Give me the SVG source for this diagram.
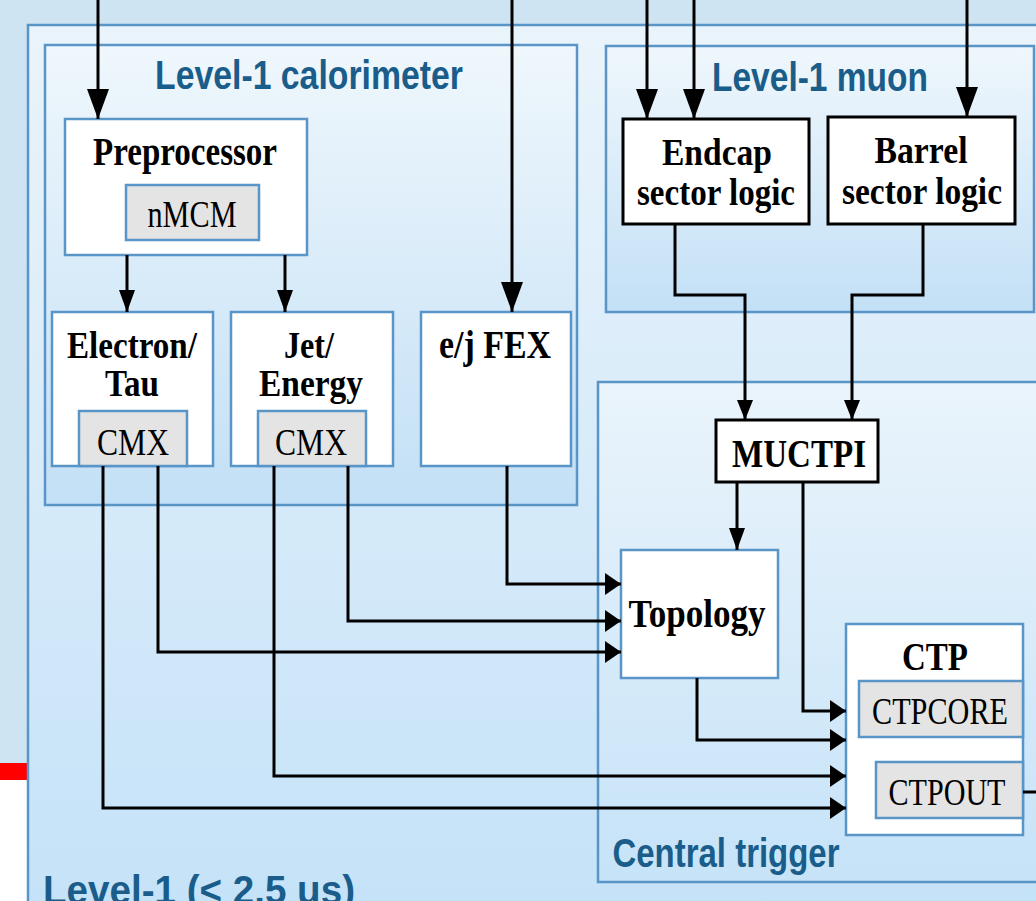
<svg xmlns="http://www.w3.org/2000/svg" width="1036" height="901" viewBox="0 0 1036 901">
<defs>
<linearGradient id="gOuter" x1="0" y1="0" x2="0" y2="1"><stop offset="0" stop-color="#eaf4fb"/><stop offset="1" stop-color="#c4e2f8"/></linearGradient>
<linearGradient id="gGroup" x1="0" y1="0" x2="0" y2="1"><stop offset="0" stop-color="#eff7fc"/><stop offset="1" stop-color="#c3e0f6"/></linearGradient>
<linearGradient id="gCentral" x1="0" y1="0" x2="0" y2="1"><stop offset="0" stop-color="#eaf4fb"/><stop offset="1" stop-color="#c6e3f8"/></linearGradient>
<marker id="aBig" viewBox="0 0 22 30" refX="11" refY="30" markerWidth="22" markerHeight="30" markerUnits="userSpaceOnUse"><path d="M0,0 L22,0 L11,30 z" fill="#000"/></marker>
<marker id="aMid" viewBox="0 0 16 22" refX="8" refY="22" markerWidth="16" markerHeight="22" markerUnits="userSpaceOnUse"><path d="M0,0 L16,0 L8,22 z" fill="#000"/></marker>
<marker id="aDn" viewBox="0 0 16 20" refX="8" refY="20" markerWidth="16" markerHeight="20" markerUnits="userSpaceOnUse"><path d="M0,0 L16,0 L8,20 z" fill="#000"/></marker>
<marker id="aR" viewBox="0 0 16 22" refX="16" refY="11" markerWidth="16" markerHeight="22" markerUnits="userSpaceOnUse"><path d="M0,0 L16,11 L0,22 z" fill="#000"/></marker>
</defs>
<style>
.grp{stroke:#5a95c8;stroke-width:2.5}
.node{fill:#fff;stroke:#5a95c8;stroke-width:2.5}
.bnode{fill:#fff;stroke:#000;stroke-width:3}
.sub{fill:#e4e4e4;stroke:#5a95c8;stroke-width:2.5}
.glabel{font-family:"Liberation Sans",Arial,sans-serif;font-weight:bold;font-size:40px;fill:#1a5d8a}
.nlabel{font-family:"Liberation Serif","Times New Roman",serif;font-weight:bold;font-size:40px;fill:#000}
.tl{font-size:37px}
.slabel{font-family:"Liberation Serif","Times New Roman",serif;font-size:38px;fill:#000}
.c{fill:none;stroke:#000;stroke-width:3}
</style>
<!-- page background -->
<rect x="0" y="0" width="1036" height="901" fill="#cfe4f2"/>
<rect x="0" y="763" width="28" height="17" fill="#ff0000"/>
<rect x="0" y="780" width="28" height="121" fill="#ffffff"/>

<g id="level1">
<rect x="28" y="25" width="1030" height="900" fill="url(#gOuter)" class="grp"/>
<text class="glabel" x="199" y="904" text-anchor="middle" textLength="312" lengthAdjust="spacingAndGlyphs" font-size="42">Level-1 (&lt; 2.5 us)</text>
</g>

<g id="calorimeter">
<rect x="45" y="45" width="532" height="460" fill="url(#gGroup)" class="grp"/>
<text class="glabel" x="309" y="89" text-anchor="middle" textLength="308" lengthAdjust="spacingAndGlyphs">Level-1 calorimeter</text>
</g>

<g id="muon">
<rect x="606" y="46" width="428" height="266" fill="url(#gGroup)" class="grp"/>
<text class="glabel" x="820" y="91" text-anchor="middle" textLength="216" lengthAdjust="spacingAndGlyphs">Level-1 muon</text>
</g>

<g id="central">
<rect x="598" y="382" width="460" height="500" fill="url(#gCentral)" class="grp"/>
<text class="glabel" x="726" y="867" text-anchor="middle" textLength="227" lengthAdjust="spacingAndGlyphs">Central trigger</text>
</g>

<g id="preprocessor">
<rect x="65" y="119" width="242" height="136" class="node"/>
<text class="nlabel" x="185" y="165" text-anchor="middle" textLength="184" lengthAdjust="spacingAndGlyphs">Preprocessor</text>
<rect x="126" y="185" width="133" height="55" class="sub"/>
<text class="slabel" x="192" y="227" text-anchor="middle" textLength="89" lengthAdjust="spacingAndGlyphs" font-size="30">nMCM</text>
</g>

<g id="electron-tau">
<rect x="52" y="312" width="161" height="154" class="node"/>
<text class="nlabel tl" x="132" y="358" text-anchor="middle" textLength="130" lengthAdjust="spacingAndGlyphs">Electron/</text>
<text class="nlabel tl" x="132" y="396" text-anchor="middle" textLength="54" lengthAdjust="spacingAndGlyphs">Tau</text>
<rect x="79" y="411" width="108" height="55" class="sub"/>
<text class="slabel" x="133" y="455" text-anchor="middle" textLength="72" lengthAdjust="spacingAndGlyphs">CMX</text>
</g>

<g id="jet-energy">
<rect x="231" y="312" width="162" height="154" class="node"/>
<text class="nlabel tl" x="309" y="358" text-anchor="middle" textLength="50" lengthAdjust="spacingAndGlyphs">Jet/</text>
<text class="nlabel tl" x="311" y="396" text-anchor="middle" textLength="104" lengthAdjust="spacingAndGlyphs">Energy</text>
<rect x="258" y="411" width="108" height="55" class="sub"/>
<text class="slabel" x="311" y="455" text-anchor="middle" textLength="72" lengthAdjust="spacingAndGlyphs">CMX</text>
</g>

<g id="ej-fex">
<rect x="421" y="312" width="150" height="154" class="node"/>
<text class="nlabel" x="495" y="358" text-anchor="middle" textLength="112" lengthAdjust="spacingAndGlyphs">e/j FEX</text>
</g>

<g id="endcap">
<rect x="623" y="119" width="186" height="105" class="bnode"/>
<text class="nlabel tl" x="717" y="165" text-anchor="middle" textLength="110" lengthAdjust="spacingAndGlyphs">Endcap</text>
<text class="nlabel tl" x="716" y="205" text-anchor="middle" textLength="158" lengthAdjust="spacingAndGlyphs">sector logic</text>
</g>

<g id="barrel">
<rect x="828" y="117" width="187" height="107" class="bnode"/>
<text class="nlabel tl" x="921" y="163" text-anchor="middle" textLength="93" lengthAdjust="spacingAndGlyphs">Barrel</text>
<text class="nlabel tl" x="922" y="204" text-anchor="middle" textLength="160" lengthAdjust="spacingAndGlyphs">sector logic</text>
</g>

<g id="muctpi">
<rect x="716" y="420" width="162" height="62" class="bnode"/>
<text class="nlabel" x="799" y="467" text-anchor="middle" textLength="134" lengthAdjust="spacingAndGlyphs" font-size="44">MUCTPI</text>
</g>

<g id="topology">
<rect x="621" y="550" width="157" height="128" class="node"/>
<text class="nlabel" x="697" y="627" text-anchor="middle" textLength="137" lengthAdjust="spacingAndGlyphs" font-size="42">Topology</text>
</g>

<g id="ctp">
<rect x="846" y="624" width="177" height="211" class="node"/>
<text class="nlabel" x="935" y="670" text-anchor="middle" textLength="66" lengthAdjust="spacingAndGlyphs">CTP</text>
<rect x="859" y="681" width="164" height="56" class="sub"/>
<text class="slabel" x="940" y="724" text-anchor="middle" textLength="136" lengthAdjust="spacingAndGlyphs" font-size="38">CTPCORE</text>
<rect x="876" y="762" width="147" height="56" class="sub"/>
<text class="slabel" x="947" y="805" text-anchor="middle" textLength="117" lengthAdjust="spacingAndGlyphs" font-size="38">CTPOUT</text>
</g>

<g id="connectors">
<path class="c" d="M98,0 V119" marker-end="url(#aBig)"/>
<path class="c" d="M512,0 V312" marker-end="url(#aBig)"/>
<path class="c" d="M647,0 V119" marker-end="url(#aBig)"/>
<path class="c" d="M694,0 V119" marker-end="url(#aBig)"/>
<path class="c" d="M967,0 V117" marker-end="url(#aBig)"/>
<path class="c" d="M127,255 V312" marker-end="url(#aMid)"/>
<path class="c" d="M285,255 V312" marker-end="url(#aMid)"/>
<path class="c" d="M675,224 V295 H745 V420" marker-end="url(#aDn)"/>
<path class="c" d="M923,224 V295 H852 V420" marker-end="url(#aDn)"/>
<path class="c" d="M737,482 V550" marker-end="url(#aMid)"/>
<path class="c" d="M803,482 V711 H846" marker-end="url(#aR)"/>
<path class="c" d="M507,466 V584 H621" marker-end="url(#aR)"/>
<path class="c" d="M348,466 V621 H621" marker-end="url(#aR)"/>
<path class="c" d="M158,466 V652 H621" marker-end="url(#aR)"/>
<path class="c" d="M697,678 V740 H846" marker-end="url(#aR)"/>
<path class="c" d="M274,466 V776 H846" marker-end="url(#aR)"/>
<path class="c" d="M103,466 V808 H846" marker-end="url(#aR)"/>
<path class="c" d="M1023,792 H1036"/>
</g>
</svg>
